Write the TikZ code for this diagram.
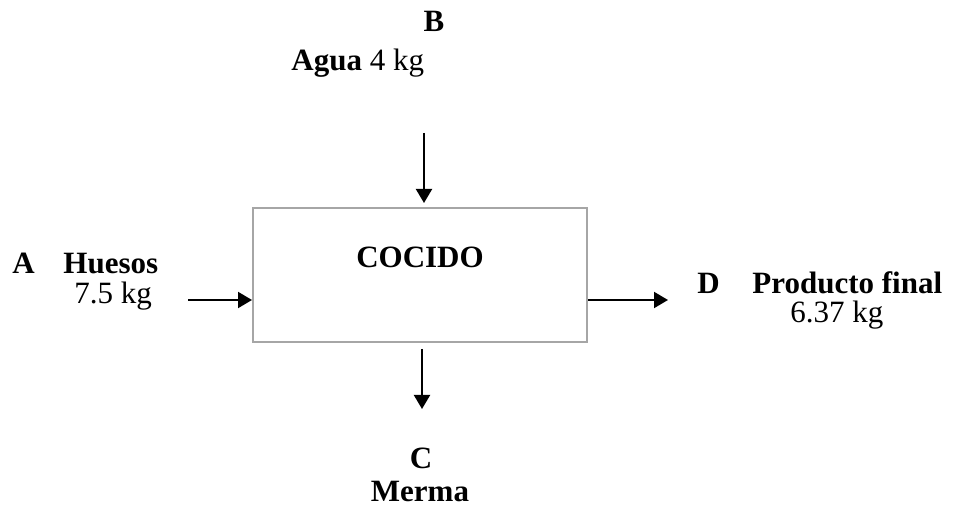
\documentclass[tikz,border=0pt]{standalone}
\usepackage{fontspec}
\setmainfont{Liberation Serif}
\usetikzlibrary{arrows.meta}
\definecolor{boxgray}{RGB}{166,166,166}

\begin{document}
\begin{tikzpicture}[
          x=0.5pt, y=-0.5pt,
          block/.style = {draw=boxgray, line width=1pt, rectangle, minimum width=167pt, minimum height=67pt, inner sep=0pt},
          txt/.style = {inner sep=0pt, font=\fontsize{15.5}{18}\selectfont},
          flow/.style = {-{Triangle[length=7pt,width=8pt]}, line width=1pt}
        ]
        \useasboundingbox (0,0) rectangle (953,512);

        \node[block] (cocido) at (420,275) {};
        \node[txt, anchor=base] (titulo) at (420,268) {\textbf{COCIDO}};

        % entrada A
        \node[txt, anchor=base west] (letraA) at (12,274) {\textbf{A}};
        \node[txt, anchor=base west] (huesos) at (63,274) {\textbf{Huesos}};
        \node[txt, anchor=base west] (masaA) at (74,304) {7.5 kg};

        % entrada B
        \node[txt, anchor=base] (letraB) at (434,32) {\textbf{B}};
        \node[txt, anchor=base west] (agua) at (291,71) {\textbf{Agua} 4 kg};

        % salida C
        \node[txt, anchor=base] (letraC) at (421,469) {\textbf{C}};
        \node[txt, anchor=base] (merma) at (420,502) {\textbf{Merma}};

        % salida D
        \node[txt, anchor=base west] (letraD) at (697,294) {\textbf{D}};
        \node[txt, anchor=base west] (producto) at (752,294) {\textbf{Producto final}};
        \node[txt, anchor=base west] (masaD) at (790,323) {6.37 kg};

        \coordinate (inA) at (188,300);
        \coordinate (inB) at (424,133);
        \coordinate (outC) at (422,409);
        \coordinate (outD) at (668,300);

        \draw[flow] (inA) -- (inA -| cocido.west);
        \draw[flow, shorten >=2pt] (inB) -- (inB |- cocido.north);
        \draw[flow, shorten <=3pt] (outC |- cocido.south) -- (outC);
        \draw[flow] (outD -| cocido.east) -- (outD);
      \end{tikzpicture}
\end{document}
